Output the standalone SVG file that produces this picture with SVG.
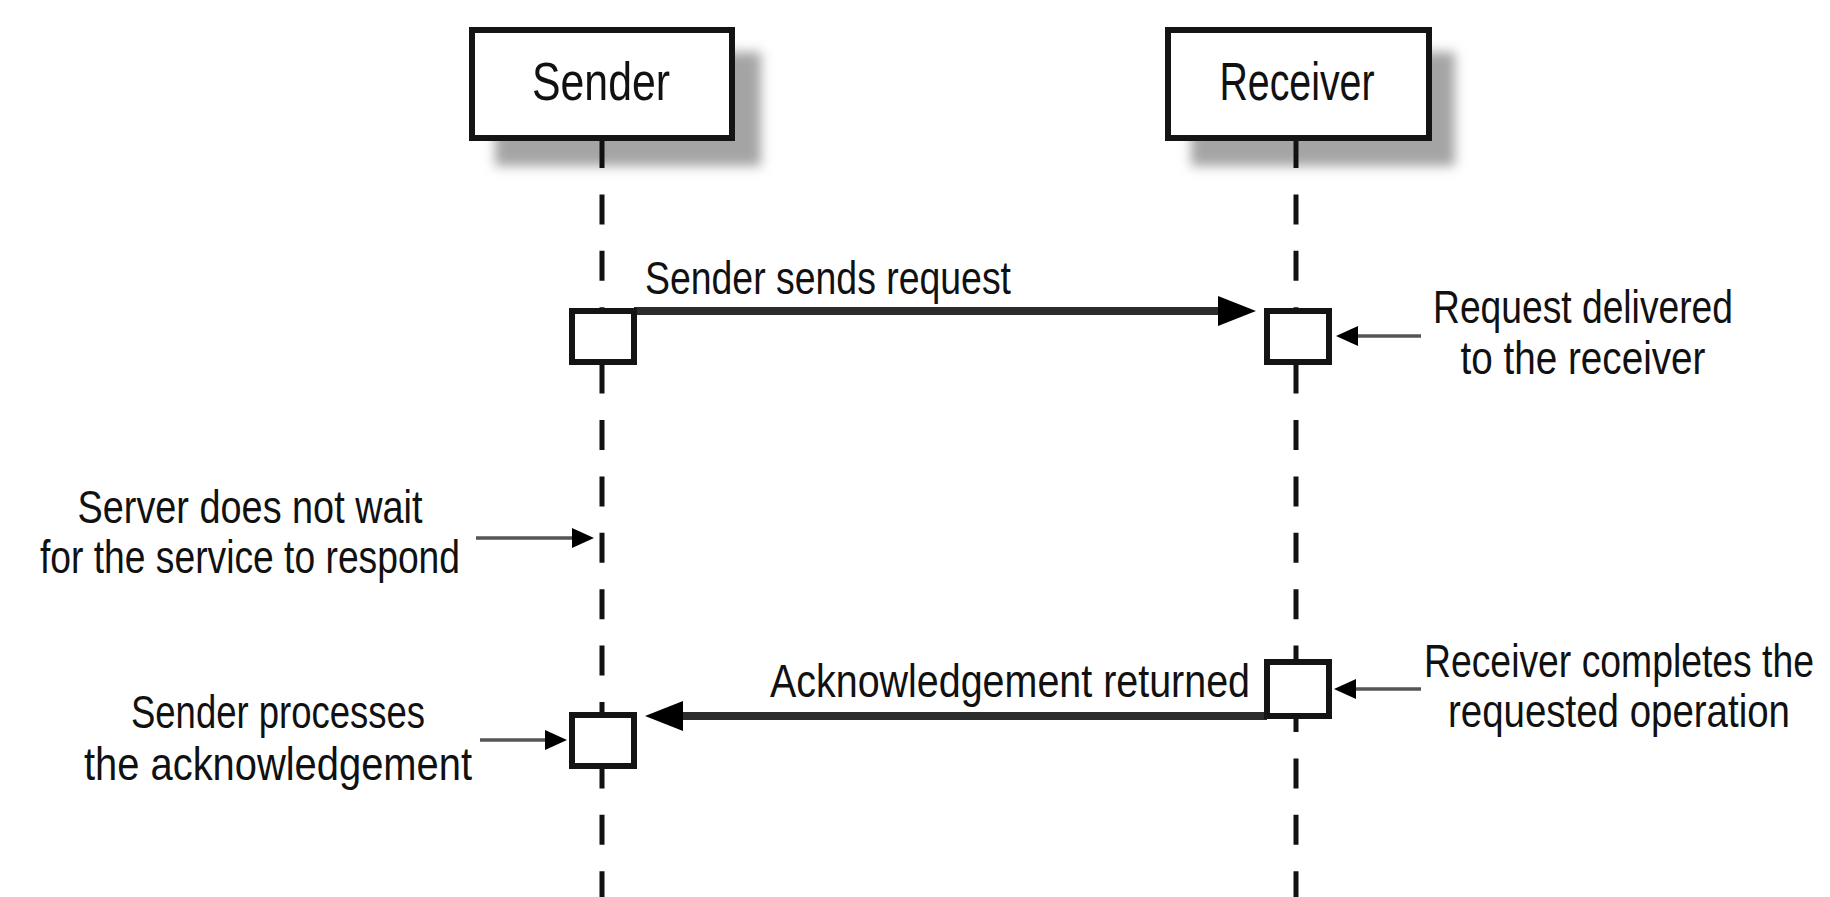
<svg xmlns="http://www.w3.org/2000/svg" width="1830" height="897" viewBox="0 0 1830 897">
  <style>
    .title { font-family: "Liberation Sans Narrow", "Liberation Sans", Arial, sans-serif; font-size: 54px; fill: #111; text-anchor: middle; }
    .note { font-family: "Liberation Sans Narrow", "Liberation Sans", Arial, sans-serif; font-size: 46px; fill: #111; }
    .mid { text-anchor: middle; }
    .end { text-anchor: end; }
    .box { fill: #fff; stroke: #141414; stroke-width: 6; }
    .shadow { fill: #a4a4a4; filter: url(#soft); }
    .life { stroke: #111; stroke-width: 5; stroke-dasharray: 30 26.4; fill: none; }
    .act { fill: #fff; stroke: #141414; stroke-width: 6; }
    .msg { stroke: #2c2c2c; stroke-width: 8; fill: none; }
    .pointer { stroke: #555; stroke-width: 3.5; fill: none; }
  </style>
  <defs>
    <filter id="soft" x="-20%" y="-30%" width="140%" height="160%">
      <feGaussianBlur stdDeviation="6"/>
    </filter>
    <marker id="head-big" markerUnits="userSpaceOnUse" markerWidth="40" markerHeight="32" refX="0" refY="15" orient="auto" overflow="visible">
      <path d="M0,0 L38,15 L0,30 Z" fill="#000"/>
    </marker>
    <marker id="head-small" markerUnits="userSpaceOnUse" markerWidth="24" markerHeight="22" refX="0" refY="10" orient="auto" overflow="visible">
      <path d="M0,0 L22,10 L0,20 Z" fill="#000"/>
    </marker>
  </defs>

  <rect width="1830" height="897" fill="#fff"/>

  <!-- participant: Sender -->
  <g id="sender">
    <rect class="shadow" x="495" y="52" width="266" height="114"/>
    <line class="life" x1="602" y1="138" x2="602" y2="897"/>
    <rect class="box" x="472" y="30" width="260" height="108"/>
    <text class="title" x="601" y="100" textLength="138" lengthAdjust="spacingAndGlyphs">Sender</text>
  </g>

  <!-- participant: Receiver -->
  <g id="receiver">
    <rect class="shadow" x="1191" y="52" width="264" height="114"/>
    <line class="life" x1="1296" y1="138" x2="1296" y2="897"/>
    <rect class="box" x="1168" y="30" width="261" height="108"/>
    <text class="title" x="1297" y="100" textLength="155" lengthAdjust="spacingAndGlyphs">Receiver</text>
  </g>

  <!-- messages and pointer arrows -->
  <g id="connectors">
    <line class="msg" x1="634" y1="311" x2="1218" y2="311" marker-end="url(#head-big)"/>
    <line class="msg" x1="1267" y1="716" x2="683" y2="716" marker-end="url(#head-big)"/>
    <line class="pointer" x1="1421" y1="336" x2="1358" y2="336" marker-end="url(#head-small)"/>
    <line class="pointer" x1="476" y1="538" x2="572" y2="538" marker-end="url(#head-small)"/>
    <line class="pointer" x1="480" y1="740" x2="545" y2="740" marker-end="url(#head-small)"/>
    <line class="pointer" x1="1421" y1="689" x2="1356" y2="689" marker-end="url(#head-small)"/>
  </g>

  <!-- activation bars -->
  <g id="sender-send">
    <rect class="act" x="572" y="311" width="62" height="51"/>
  </g>
  <g id="receiver-deliver">
    <rect class="act" x="1267" y="311" width="62" height="51"/>
  </g>
  <g id="receiver-complete">
    <rect class="act" x="1267" y="662" width="62" height="54"/>
  </g>
  <g id="sender-process">
    <rect class="act" x="572" y="715" width="62" height="51"/>
  </g>

  <!-- message labels -->
  <g id="label-request">
    <text class="note" x="645" y="294" textLength="366" lengthAdjust="spacingAndGlyphs">Sender sends request</text>
  </g>
  <g id="label-ack">
    <text class="note end" x="1250" y="697" textLength="480" lengthAdjust="spacingAndGlyphs">Acknowledgement returned</text>
  </g>

  <!-- notes -->
  <g id="note-delivered">
    <text class="note mid" x="1583" y="323" textLength="300" lengthAdjust="spacingAndGlyphs">Request delivered</text>
    <text class="note mid" x="1583" y="374" textLength="245" lengthAdjust="spacingAndGlyphs">to the receiver</text>
  </g>
  <g id="note-nowait">
    <text class="note mid" x="250" y="523" textLength="345" lengthAdjust="spacingAndGlyphs">Server does not wait</text>
    <text class="note mid" x="250" y="573" textLength="420" lengthAdjust="spacingAndGlyphs">for the service to respond</text>
  </g>
  <g id="note-completes">
    <text class="note mid" x="1619" y="677" textLength="390" lengthAdjust="spacingAndGlyphs">Receiver completes the</text>
    <text class="note mid" x="1619" y="727" textLength="342" lengthAdjust="spacingAndGlyphs">requested operation</text>
  </g>
  <g id="note-processes">
    <text class="note mid" x="278" y="728" textLength="294" lengthAdjust="spacingAndGlyphs">Sender processes</text>
    <text class="note mid" x="278" y="780" textLength="388" lengthAdjust="spacingAndGlyphs">the acknowledgement</text>
  </g>
</svg>
